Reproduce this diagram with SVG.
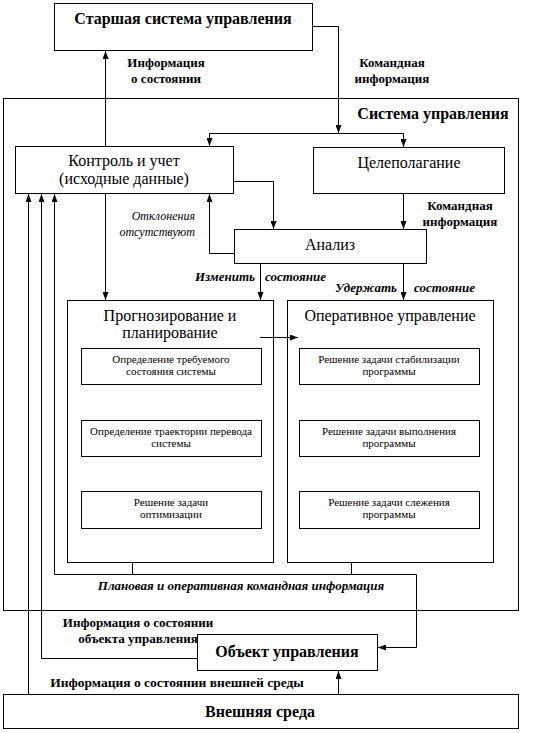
<svg xmlns="http://www.w3.org/2000/svg" width="533" height="733" viewBox="0 0 533 733">
<style>
.box{fill:#fff;stroke:#000;stroke-width:1}
.frame{fill:none;stroke:#000;stroke-width:1}
.ln{fill:none;stroke:#000;stroke-width:1}
text{font-family:"Liberation Serif","Liberation Sans",sans-serif;fill:#000}
.t16{font-size:16px;text-anchor:middle}
.b16{font-size:16px;font-weight:bold;text-anchor:middle}
.b13{font-size:13px;font-weight:bold;text-anchor:middle}
.bi13{font-size:13px;font-weight:bold;font-style:italic}
.i12{font-size:12px;font-style:italic;text-anchor:end}
.s11{font-size:11px;text-anchor:middle}
</style>
<defs>
<marker id="ar" viewBox="0 0 8 6" refX="8" refY="3" markerWidth="8" markerHeight="6" markerUnits="userSpaceOnUse" orient="auto">
<path d="M0,0 L8,3 L0,6 Z" fill="#000"/>
</marker>
</defs>
<rect width="533" height="733" fill="#fff"/>

<g id="sys">
<rect class="frame" x="3.5" y="98.5" width="515" height="512"/>
<text class="b16" x="433" y="119">Система управления</text>
</g>

<g id="connectors">
<path class="ln" d="M105.5,146 V51" marker-end="url(#ar)"/>
<path class="ln" d="M313,26.5 H338.5 V133" marker-end="url(#ar)"/>
<path class="ln" d="M209.5,133.5 H403.5"/>
<path class="ln" d="M209.5,133.5 V146" marker-end="url(#ar)"/>
<path class="ln" d="M403.5,133.5 V147" marker-end="url(#ar)"/>
<path class="ln" d="M234,181.5 H273.5 V229" marker-end="url(#ar)"/>
<path class="ln" d="M403.5,194 V229" marker-end="url(#ar)"/>
<path class="ln" d="M234,253.5 H209.5 V194" marker-end="url(#ar)"/>
<path class="ln" d="M105.5,194 V300" marker-end="url(#ar)"/>
<path class="ln" d="M260.5,264 V300" marker-end="url(#ar)"/>
<path class="ln" d="M403.5,264 V300" marker-end="url(#ar)"/>
<path class="ln" d="M260,337.5 H298" marker-end="url(#ar)"/>
<path class="ln" d="M132.5,563 V574.5"/>
<path class="ln" d="M351.5,563 V574.5"/>
<path class="ln" d="M54.5,574.5 H416.5 V647.5 H378" marker-end="url(#ar)"/>
<path class="ln" d="M54.5,574.5 V194" marker-end="url(#ar)"/>
<path class="ln" d="M197,658.5 H41.5 V194" marker-end="url(#ar)"/>
<path class="ln" d="M28.5,694 V194" marker-end="url(#ar)"/>
<path class="ln" d="M338.5,694 V671" marker-end="url(#ar)"/>
</g>

<g id="senior">
<rect class="box" x="54.5" y="3.5" width="258" height="47"/>
<text class="b16" x="183" y="24">Старшая система управления</text>
</g>

<g id="labels">
<text class="b13" x="166" y="67">Информация</text>
<text class="b13" x="166" y="83">о состоянии</text>
<text class="b13" x="392" y="67">Командная</text>
<text class="b13" x="392" y="83">информация</text>
<text class="b13" x="460" y="210">Командная</text>
<text class="b13" x="460" y="226">информация</text>
<text class="i12" x="195" y="220">Отклонения</text>
<text class="i12" x="195" y="236">отсутствуют</text>
<text class="bi13" x="255" y="281" text-anchor="end">Изменить</text>
<text class="bi13" x="265" y="281">состояние</text>
<text class="bi13" x="397" y="292" text-anchor="end">Удержать</text>
<text class="bi13" x="414" y="292">состояние</text>
<text class="bi13" x="241" y="590" text-anchor="middle">Плановая и оперативная командная информация</text>
<text class="b13" x="138" y="627">Информация о состоянии</text>
<text class="b13" x="138" y="643">объекта управления</text>
<text class="b13" x="177" y="687" style="font-size:13.5px">Информация о состоянии внешней среды</text>
</g>

<g id="control">
<rect class="box" x="15.5" y="146.5" width="218" height="47"/>
<text class="t16" x="124" y="166">Контроль и учет</text>
<text class="t16" x="124" y="184">(исходные данные)</text>
</g>

<g id="goal">
<rect class="box" x="313.5" y="147.5" width="191" height="46"/>
<text class="t16" x="409" y="168">Целеполагание</text>
</g>

<g id="analysis">
<rect class="box" x="234.5" y="229.5" width="192" height="34"/>
<text class="t16" x="330" y="250">Анализ</text>
</g>

<g id="forecast">
<rect class="frame" x="67.5" y="300.5" width="206" height="262"/>
<text class="t16" x="170" y="321">Прогнозирование и</text>
<text class="t16" x="170" y="338">планирование</text>
</g>
<g id="f1"><rect class="box" x="81.5" y="348.5" width="180" height="36"/>
<text class="s11" x="171" y="363">Определение требуемого</text>
<text class="s11" x="171" y="375">состояния системы</text></g>
<g id="f2"><rect class="box" x="81.5" y="420.5" width="180" height="36"/>
<text class="s11" x="171" y="435">Определение траектории перевода</text>
<text class="s11" x="171" y="447">системы</text></g>
<g id="f3"><rect class="box" x="81.5" y="491.5" width="180" height="37"/>
<text class="s11" x="171" y="506">Решение задачи</text>
<text class="s11" x="171" y="518">оптимизации</text></g>

<g id="operative">
<rect class="frame" x="287.5" y="300.5" width="206" height="262"/>
<text class="t16" x="390" y="321">Оперативное управление</text>
</g>
<g id="o1"><rect class="box" x="299.5" y="348.5" width="180" height="36"/>
<text class="s11" x="389" y="363">Решение задачи стабилизации</text>
<text class="s11" x="389" y="375">программы</text></g>
<g id="o2"><rect class="box" x="299.5" y="420.5" width="180" height="36"/>
<text class="s11" x="389" y="435">Решение задачи выполнения</text>
<text class="s11" x="389" y="447">программы</text></g>
<g id="o3"><rect class="box" x="299.5" y="491.5" width="180" height="37"/>
<text class="s11" x="389" y="506">Решение задачи слежения</text>
<text class="s11" x="389" y="518">программы</text></g>

<g id="object">
<rect class="box" x="197.5" y="634.5" width="180" height="36"/>
<text class="b16" x="287" y="657">Объект управления</text>
</g>

<g id="env">
<rect class="box" x="3.5" y="694.5" width="515" height="34"/>
<text class="b16" x="260" y="717">Внешняя среда</text>
</g>
</svg>
